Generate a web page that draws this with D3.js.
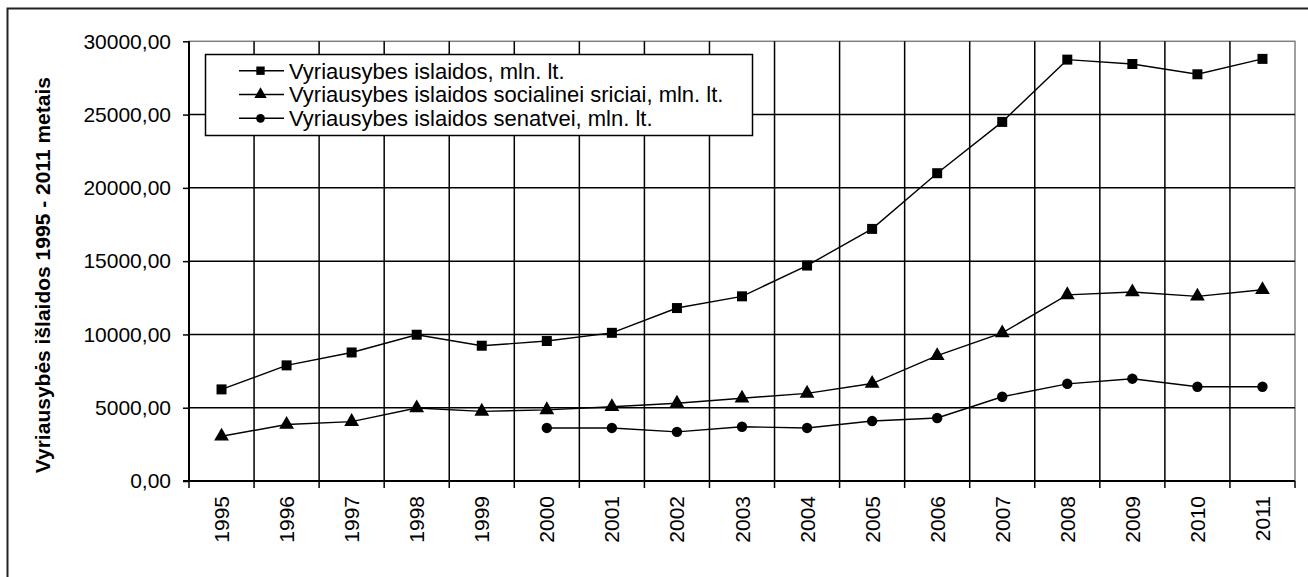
<!DOCTYPE html>
<meta charset="utf-8">
<style>
    body { margin: 0; background: #fff; }
    svg { display: block; font-family: Arial, "Liberation Sans", sans-serif; }
    .axis path { display: none; }
</style>
<body>
<svg></svg>
</body>
<script src="https://cdn.jsdelivr.net/npm/d3@7"></script>
<script>

    var years = ['1995', '1996', '1997', '1998', '1999', '2000', '2001', '2002', '2003',
        '2004', '2005', '2006', '2007', '2008', '2009', '2010', '2011'];
    var total = [6250, 7890, 8770, 9980, 9230, 9550, 10110, 11800, 12600,
        14700, 17200, 21000, 24500, 28750, 28450, 27750, 28800];
    var social = [3050, 3850, 4050, 4980, 4750, 4850, 5070, 5300, 5650,
        5980, 6650, 8550, 10100, 12700, 12900, 12600, 13050];
    var oldAge = [null, null, null, null, null, 3620, 3620, 3350, 3700,
        3620, 4090, 4300, 5750, 6630, 6980, 6430, 6430];
    var yTicks = [0, 5000, 10000, 15000, 20000, 25000, 30000];
    var seriesNames = ['Vyriausybes islaidos, mln. lt.',
        'Vyriausybes islaidos socialinei sriciai, mln. lt.',
        'Vyriausybes islaidos senatvei, mln. lt.'];
    var yTitle = 'Vyriausybės išlaidos 1995 - 2011 metais';

    (function () {
        var W = 1308, H = 577;
        var pL = 189, pR = 1295, pT = 41.3, pB = 481;
        var fs = 21, legFs = 22;

        var svg = d3.select('svg').attr('width', W).attr('height', H);

        // outer chart border (right/bottom edges fall outside the picture)
        svg.append('rect')
            .attr('x', 7.5).attr('y', 8.5).attr('width', 1400).attr('height', 700)
            .attr('fill', '#fff').attr('stroke', '#222').attr('stroke-width', 2);

        var x = d3.scaleBand().domain(years).range([pL, pR]);
        var y = d3.scaleLinear().domain([0, 30000]).range([pB, pT]);

        // plot frame
        svg.append('rect')
            .attr('x', pL).attr('y', pT).attr('width', pR - pL).attr('height', pB - pT)
            .attr('fill', '#fff').attr('stroke', '#808080').attr('stroke-width', 1.5);

        // horizontal grid
        svg.append('g').selectAll('line').data(yTicks.slice(1, -1)).join('line')
            .attr('x1', pL).attr('x2', pR)
            .attr('y1', function (d) { return y(d); }).attr('y2', function (d) { return y(d); })
            .attr('stroke', '#000').attr('stroke-width', 1.5);

        // vertical grid at category edges + ticks below the axis
        svg.append('g').selectAll('line').data(years.slice(1)).join('line')
            .attr('x1', function (d) { return x(d); }).attr('x2', function (d) { return x(d); })
            .attr('y1', pT).attr('y2', pB + 7)
            .attr('stroke', '#000').attr('stroke-width', 1.5);
        [pL, pR].forEach(function (xx) {
            svg.append('line')
                .attr('x1', xx).attr('x2', xx).attr('y1', pB).attr('y2', pB + 7)
                .attr('stroke', '#000').attr('stroke-width', 1.5);
        });

        // axis lines
        svg.append('line')
            .attr('x1', pL).attr('x2', pL).attr('y1', pT).attr('y2', pB)
            .attr('stroke', '#000').attr('stroke-width', 2);
        svg.append('line')
            .attr('x1', pL - 6).attr('x2', pR).attr('y1', pB).attr('y2', pB)
            .attr('stroke', '#000').attr('stroke-width', 2);

        // y axis
        var fmt = function (d) { return d3.format('.2f')(d).replace('.', ','); };
        var yAxis = svg.append('g').attr('class', 'axis')
            .attr('transform', 'translate(' + pL + ',0)')
            .call(d3.axisLeft(y).tickValues(yTicks).tickSize(6).tickPadding(12).tickFormat(fmt));
        yAxis.selectAll('line').attr('stroke', '#000').attr('stroke-width', 1.5);
        yAxis.selectAll('text').attr('font-size', fs).attr('fill', '#000')
            .attr('font-family', 'Arial, "Liberation Sans", sans-serif');

        // x labels, rotated
        svg.append('g').selectAll('text').data(years).join('text')
            .attr('transform', function (d) {
                return 'translate(' + (x(d) + x.bandwidth() / 2 + 7.5) + ',' + (pB + 15) + ') rotate(-90)';
            })
            .attr('text-anchor', 'end')
            .attr('font-size', fs)
            .text(function (d) { return d; });

        // y title
        svg.append('text')
            .attr('transform', 'translate(50,' + ((pT + pB) / 2 + 14) + ') rotate(-90)')
            .attr('text-anchor', 'middle')
            .attr('font-size', fs)
            .attr('font-weight', 'bold')
            .text(yTitle);

        var cx = function (i) { return x(years[i]) + x.bandwidth() / 2; };
        var line = d3.line()
            .defined(function (d) { return d != null; })
            .x(function (d, i) { return cx(i); })
            .y(function (d) { return y(d); });

        var sym = [d3.symbolSquare, d3.symbolTriangle, d3.symbolCircle];
        var symSize = [100, 95, 85];
        var allSeries = [total, social, oldAge];

        allSeries.forEach(function (vals, s) {
            svg.append('path')
                .attr('d', line(vals))
                .attr('fill', 'none')
                .attr('stroke', '#000')
                .attr('stroke-width', 1.4);
            svg.append('g').selectAll('path')
                .data(vals.map(function (v, i) { return {v: v, i: i}; })
                    .filter(function (d) { return d.v != null; }))
                .join('path')
                .attr('transform', function (d) { return 'translate(' + cx(d.i) + ',' + y(d.v) + ')'; })
                .attr('d', d3.symbol().type(sym[s]).size(symSize[s]))
                .attr('fill', '#000');
        });

        // legend
        var lg = svg.append('g');
        lg.append('rect')
            .attr('x', 205.5).attr('y', 54.5).attr('width', 547).attr('height', 81)
            .attr('fill', '#fff').attr('stroke', '#000').attr('stroke-width', 1.5);
        var rows = lg.selectAll('g').data(seriesNames).join('g')
            .attr('transform', function (d, i) { return 'translate(0,' + (70.7 + i * 23.8) + ')'; });
        rows.append('line')
            .attr('x1', 239).attr('x2', 284).attr('y1', 0).attr('y2', 0)
            .attr('stroke', '#000').attr('stroke-width', 1.4);
        rows.append('path')
            .attr('transform', 'translate(260.5,0)')
            .attr('d', function (d, i) { return d3.symbol().type(sym[i]).size(symSize[i] * 0.7)(); })
            .attr('fill', '#000');
        rows.append('text')
            .attr('x', 289).attr('y', 0).attr('dy', '0.36em')
            .attr('font-size', legFs)
            .text(function (d) { return d; });
    })();

</script>
